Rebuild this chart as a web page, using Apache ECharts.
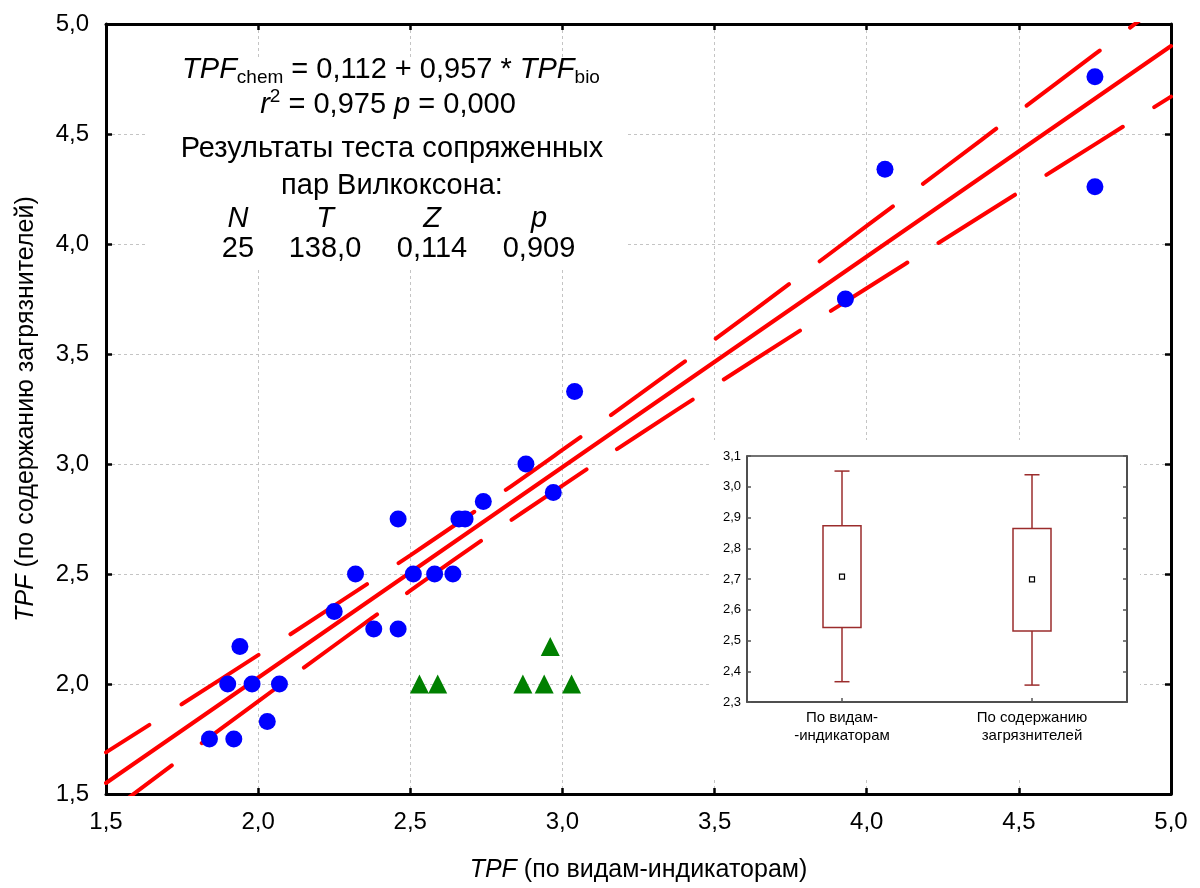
<!DOCTYPE html>
<html><head><meta charset="utf-8">
<script src="https://cdn.jsdelivr.net/npm/echarts@6/dist/echarts.min.js"></script>
<style>html,body{margin:0;padding:0;background:#fff}#c{width:1200px;height:888px}</style>
</head><body><div id="c"></div>
<script>
// ---- data ----
const circleX = [1.84,1.92,1.90,1.94,1.98,2.03,2.07,2.25,2.32,2.38,2.46,2.46,2.51,2.58,2.64,2.66,2.68,2.74,2.88,2.97,3.04,3.93,4.06,4.75,4.75];
const circleY = [1.75,1.75,2.00,2.17,2.00,1.83,2.00,2.33,2.50,2.25,2.25,2.75,2.50,2.50,2.50,2.75,2.75,2.83,3.00,2.87,3.33,3.75,4.34,4.26,4.76];
const triX = [2.53,2.59,2.87,2.94,2.96,3.03];
const triY = [2.00,2.00,2.00,2.00,2.17,2.00];
const regX = [1.5, 5.0];
const regY = [1.55, 4.90];
const bandX = [1.5,1.75,2.0,2.25,2.5,2.75,3.0,3.25,3.5,3.75,4.0,4.25,4.5,4.75,5.0];
const bandUpper = [1.689,1.909,2.131,2.356,2.585,2.821,3.064,3.313,3.566,3.823,4.082,4.341,4.602,4.863,5.124];
const bandLower = [1.406,1.665,1.921,2.175,2.424,2.667,2.902,3.132,3.357,3.579,3.799,4.017,4.235,4.453,4.670];
const boxCategories = ['По видам-\n-индикаторам', 'По содержанию\nзагрязнителей'];
const boxWhiskerLow = [2.366, 2.355];
const boxLow = [2.542, 2.531];
const boxMean = [2.708, 2.699];
const boxHigh = [2.873, 2.864];
const boxWhiskerHigh = [3.051, 3.039];
const statHeaders = ['N', 'T', 'Z', 'p'];
const statValues = ['25', '138,0', '0,114', '0,909'];
const textLines = ['Результаты теста сопряженных', 'пар Вилкоксона:'];
const xTitle = '(по видам-индикаторам)';
const yTitle = '(по содержанию загрязнителей)';

// ---- chart ----
const FONT = 'Liberation Sans, Arial, sans-serif';
const comma = v => v.toFixed(1).replace('.', ',');
const chart = echarts.init(document.getElementById('c'));

const frameLine = {show: true, onZero: false, lineStyle: {color: '#000', width: 3}};
const frameTick = {show: true, inside: true, length: 6, lineStyle: {color: '#000', width: 2.5}};
const gridSplit = {show: true, lineStyle: {color: '#c4c4c4', type: [3, 3], width: 1}};
const axisFont = {fontSize: 24, color: '#000', fontFamily: FONT};

const insetLine = {show: true, onZero: false, lineStyle: {color: '#444', width: 1.5}};
const insetTick = {show: true, inside: true, length: 4, lineStyle: {color: '#555', width: 1.5}};

const TS = 29;
const statCols = [238, 325, 432, 539];
const graphic = [
  {type: 'rect', shape: {x: 148, y: 58, width: 477, height: 210}, style: {fill: '#fff'}, z: 5, silent: true},
  {type: 'rect', shape: {x: 712, y: 440, width: 428, height: 337}, style: {fill: '#fff'}, z: 5, silent: true},
  {type: 'text', x: 391, y: 70, z: 6, style: {
    text: '{i|TPF}{sub|chem}{n| = 0,112 + 0,957 * }{i|TPF}{sub|bio}',
    align: 'center', verticalAlign: 'middle', fill: '#000',
    rich: {
      i: {fontStyle: 'italic', fontSize: TS, lineHeight: 35, fontFamily: FONT, fill: '#000'},
      n: {fontSize: TS, lineHeight: 35, fontFamily: FONT, fill: '#000'},
      sub: {fontSize: 19, lineHeight: 19, verticalAlign: 'bottom', fontFamily: FONT, fill: '#000'}
    }}},
  {type: 'text', x: 388, y: 105, z: 6, style: {
    text: '{i|r}{sup|2}{n| = 0,975 }{i|p}{n| = 0,000}',
    align: 'center', verticalAlign: 'middle', fill: '#000',
    rich: {
      i: {fontStyle: 'italic', fontSize: TS, lineHeight: 35, fontFamily: FONT, fill: '#000'},
      n: {fontSize: TS, lineHeight: 35, fontFamily: FONT, fill: '#000'},
      sup: {fontSize: 19, lineHeight: 19, verticalAlign: 'top', fontFamily: FONT, fill: '#000'}
    }}},
  {type: 'text', x: 392, y: 149, z: 6, style: {text: textLines[0], align: 'center', verticalAlign: 'middle', fontSize: TS, fontFamily: FONT, fill: '#000'}},
  {type: 'text', x: 392, y: 186, z: 6, style: {text: textLines[1], align: 'center', verticalAlign: 'middle', fontSize: TS, fontFamily: FONT, fill: '#000'}}
];
statHeaders.forEach((h, i) => graphic.push({type: 'text', x: statCols[i], y: 219, z: 6,
  style: {text: h, align: 'center', verticalAlign: 'middle', fontSize: TS, fontStyle: 'italic', fontFamily: FONT, fill: '#000'}}));
statValues.forEach((v, i) => graphic.push({type: 'text', x: statCols[i], y: 249, z: 6,
  style: {text: v, align: 'center', verticalAlign: 'middle', fontSize: TS, fontFamily: FONT, fill: '#000'}}));

const boxColor = '#9b2c2c';
const nameStyle = {fontSize: 25, color: '#000', fontFamily: FONT, rich: {i: {fontStyle: 'italic', fontSize: 25, fontFamily: FONT, color: '#000'}}};
const option = {
  backgroundColor: '#fff',
  animation: false,
  textStyle: {fontFamily: FONT},
  grid: [
    {left: 106, top: 24, width: 1065, height: 771, show: false},
    {left: 747, top: 456, width: 380, height: 246, show: true, backgroundColor: '#fff', borderColor: '#444', borderWidth: 1.5, z: 10}
  ],
  xAxis: [
    {gridIndex: 0, type: 'value', min: 1.5, max: 5, interval: 0.5, position: 'bottom',
     axisLine: frameLine, axisTick: frameTick, splitLine: gridSplit,
     axisLabel: Object.assign({margin: 16, formatter: comma}, axisFont),
     name: '{i|TPF} ' + xTitle, nameLocation: 'middle', nameGap: 64, nameTextStyle: nameStyle},
    {gridIndex: 0, type: 'value', min: 1.5, max: 5, interval: 0.5, position: 'top',
     axisLine: frameLine, axisTick: frameTick, splitLine: {show: false}, axisLabel: {show: false}},
    {gridIndex: 1, type: 'category', data: boxCategories, position: 'bottom', z: 10,
     axisLine: insetLine, axisTick: Object.assign({alignWithLabel: true}, insetTick), splitLine: {show: false},
     axisLabel: {fontSize: 15, lineHeight: 18, color: '#000', margin: 7, fontFamily: FONT, interval: 0}}
  ],
  yAxis: [
    {gridIndex: 0, type: 'value', min: 1.5, max: 5, interval: 0.5, position: 'left',
     axisLine: frameLine, axisTick: frameTick, splitLine: gridSplit,
     axisLabel: Object.assign({margin: 17, formatter: comma}, axisFont),
     name: '{i|TPF} ' + yTitle, nameLocation: 'middle', nameGap: 67, nameRotate: 90, nameTextStyle: nameStyle},
    {gridIndex: 0, type: 'value', min: 1.5, max: 5, interval: 0.5, position: 'right',
     axisLine: frameLine, axisTick: frameTick, splitLine: {show: false}, axisLabel: {show: false}},
    {gridIndex: 1, type: 'value', min: 2.3, max: 3.1, interval: 0.1, position: 'left', z: 10,
     axisLine: insetLine, axisTick: insetTick, splitLine: {show: false},
     axisLabel: {fontSize: 13, color: '#000', margin: 6, fontFamily: FONT, formatter: comma}},
    {gridIndex: 1, type: 'value', min: 2.3, max: 3.1, interval: 0.1, position: 'right', z: 10,
     axisLine: insetLine, axisTick: insetTick, splitLine: {show: false}, axisLabel: {show: false}}
  ],
  graphic: graphic,
  series: [
    {type: 'line', xAxisIndex: 0, yAxisIndex: 0, data: regX.map((x, i) => [x, regY[i]]), symbol: 'none', z: 3,
     lineStyle: {color: '#ff0000', width: 4, cap: 'round'}},
    {type: 'line', xAxisIndex: 0, yAxisIndex: 0, data: bandX.map((x, i) => [x, bandUpper[i]]), symbol: 'none', smooth: true, z: 3,
     lineStyle: {color: '#ff0000', width: 4, cap: 'round', type: [91.5, 38], dashOffset: 40}},
    {type: 'line', xAxisIndex: 0, yAxisIndex: 0, data: bandX.map((x, i) => [x, bandLower[i]]), symbol: 'none', smooth: true, z: 3,
     lineStyle: {color: '#ff0000', width: 4, cap: 'round', type: [90.5, 36.8], dashOffset: 8}},
    {type: 'scatter', xAxisIndex: 0, yAxisIndex: 0, data: circleX.map((x, i) => [x, circleY[i]]), symbol: 'circle', symbolSize: 17, z: 4,
     itemStyle: {color: '#0000ff', opacity: 1}},
    {type: 'scatter', xAxisIndex: 0, yAxisIndex: 0, data: triX.map((x, i) => [x, triY[i]]), symbol: 'triangle', symbolSize: 19, z: 4,
     itemStyle: {color: '#008000', opacity: 1}},
    {type: 'custom', xAxisIndex: 2, yAxisIndex: 2, z: 11,
     encode: {x: 0, y: [1, 2, 3, 4, 5]},
     data: boxCategories.map((c, i) => [i, boxWhiskerLow[i], boxLow[i], boxMean[i], boxHigh[i], boxWhiskerHigh[i]]),
     renderItem: function (params, api) {
       const i = api.value(0);
       const wl = api.coord([i, api.value(1)]);
       const bl = api.coord([i, api.value(2)]);
       const mn = api.coord([i, api.value(3)]);
       const bh = api.coord([i, api.value(4)]);
       const wh = api.coord([i, api.value(5)]);
       const x = wl[0], bw = 38, cw = 15, ms = 5;
       const ls = {stroke: boxColor, lineWidth: 1.5, fill: null};
       return {type: 'group', children: [
         {type: 'line', shape: {x1: x, y1: wh[1], x2: x, y2: bh[1]}, style: ls},
         {type: 'line', shape: {x1: x, y1: bl[1], x2: x, y2: wl[1]}, style: ls},
         {type: 'line', shape: {x1: x - cw / 2, y1: wh[1], x2: x + cw / 2, y2: wh[1]}, style: ls},
         {type: 'line', shape: {x1: x - cw / 2, y1: wl[1], x2: x + cw / 2, y2: wl[1]}, style: ls},
         {type: 'rect', shape: {x: x - bw / 2, y: bh[1], width: bw, height: bl[1] - bh[1]}, style: {stroke: boxColor, lineWidth: 1.5, fill: '#fff'}},
         {type: 'rect', shape: {x: x - ms / 2, y: mn[1] - ms / 2, width: ms, height: ms}, style: {stroke: '#000', lineWidth: 1.2, fill: '#fff'}}
       ]};
     }}
  ]
};
chart.setOption(option);
</script>
</body></html>
